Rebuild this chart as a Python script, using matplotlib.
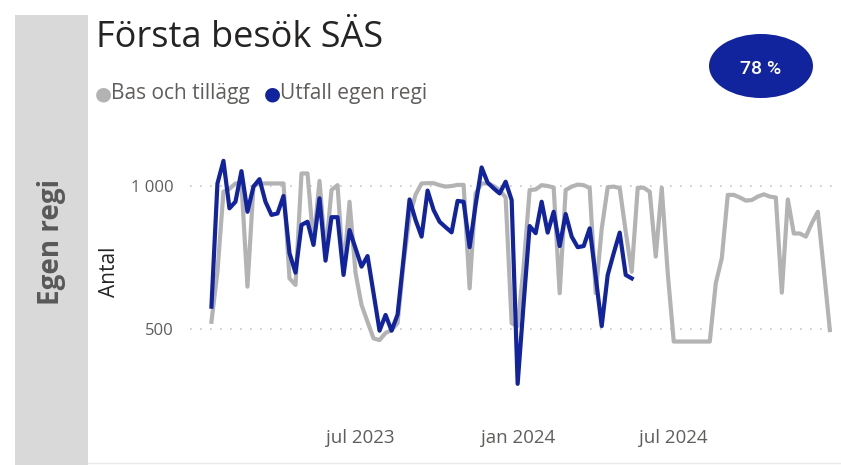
import numpy as np
import pandas as pd
import matplotlib
matplotlib.use("Agg")
import matplotlib.pyplot as plt
import matplotlib.dates as mdates
from matplotlib.patches import Rectangle, Ellipse

plt.rcParams['font.family'] = ['Open Sans', 'DejaVu Sans']

# weekly values, first week 2023-01-09
bas_och_tillagg = [525, 700, 980, 990, 1009, 1009, 648, 1000, 1009, 1009,
                   1009, 1009, 1009, 677, 654, 1044, 1044, 800, 1018, 760,
                   986, 1003, 700, 945, 696, 584, 525, 467, 461, 486,
                   496, 520, 730, 893, 970, 1009, 1010, 1010, 1003, 998,
                   1000, 1004, 1004, 642, 974, 1009, 1009, 1000, 986, 960,
                   520, 510, 720, 986, 988, 1003, 1000, 995, 625, 986,
                   998, 1005, 1003, 993, 625, 850, 996, 998, 993, 840,
                   700, 994, 994, 980, 753, 994, 695, 456, 456, 456,
                   456, 456, 456, 456, 660, 747, 969, 969, 960, 949,
                   951, 963, 971, 963, 960, 627, 953, 834, 834, 823,
                   870, 910, 706, 496]

utfall_egen_regi = [578, 1009, 1088, 922, 945, 1052, 910, 998, 1024, 945,
                    899, 904, 965, 765, 697, 864, 875, 794, 957, 739,
                    891, 891, 689, 846, 782, 718, 755, 625, 494, 549,
                    494, 550, 747, 953, 881, 823, 984, 916, 875, 856,
                    838, 948, 945, 786, 934, 1065, 1012, 992, 974, 1015,
                    951, 308, 590, 860, 835, 945, 837, 910, 790, 902,
                    823, 786, 790, 852, 683, 510, 689, 765, 837, 689,
                    677]

weeks = pd.date_range('2023-01-09', periods=len(bas_och_tillagg), freq='7D')

tick_dates = ['2023-07-01', '2024-01-01', '2024-07-01']
tick_labels = ['jul 2023', 'jan 2024', 'jul 2024']
y_ticks = [500, 1000]
y_tick_labels = ['500', '1 000']
kpi_text = '78 %'

gray = '#B3B3B3'
blue = '#12239E'
text_gray = '#605E5C'

fig = plt.figure(figsize=(8.41, 4.65), dpi=100)

# left band with rotated row label
fig.patches.append(Rectangle((15/841, 0), 73/841, 1 - 15/465, transform=fig.transFigure,
                             facecolor='#D9D9D9', edgecolor='none', zorder=0))
fig.text(52/841, 1 - 242/465, 'Egen regi', rotation=90, ha='center', va='center',
         fontsize=20, fontweight='bold', color='#595959')

# bottom border line
fig.add_artist(plt.Line2D([88/841, 1], [2/465, 2/465], transform=fig.transFigure,
                          color='#EAEAEA', lw=1))

fig.text(96/841, 1 - 38/465, 'Första besök SÄS', ha='left', va='center',
         fontsize=26, color='#252423')

# legend
fig.text(103/841, 1 - 94/465, '●', ha='center', va='center', fontsize=14, color=gray)
fig.text(111/841, 1 - 94/465, 'Bas och tillägg', ha='left', va='center',
         fontsize=15, color=text_gray)
fig.text(272/841, 1 - 94/465, '●', ha='center', va='center', fontsize=14, color=blue)
fig.text(280/841, 1 - 94/465, 'Utfall egen regi', ha='left', va='center',
         fontsize=15, color=text_gray)

# KPI badge
fig.patches.append(Ellipse((761/841, 1 - 66/465), 104/841, 64/465, transform=fig.transFigure,
                           facecolor=blue, edgecolor='none'))
fig.text(761/841, 1 - 69/465, kpi_text, ha='center', va='center', fontsize=14,
         color='white', fontweight='medium', family=['Roboto', 'DejaVu Sans'])

ax = fig.add_axes([190/841, 1 - 415/465, 645/841, 275/465])
ax.plot(weeks, bas_och_tillagg, color=gray, lw=3, solid_joinstyle='round', zorder=2)
ax.plot(weeks[:len(utfall_egen_regi)], utfall_egen_regi, color=blue, lw=3,
        solid_joinstyle='round', zorder=3)

ax.set_xlim(pd.Timestamp('2022-12-15'), pd.Timestamp('2025-01-05'))
ax.set_ylim(199, 1161)
ax.set_xticks(pd.to_datetime(tick_dates))
ax.set_xticklabels(tick_labels)
ax.set_yticks(y_ticks)
ax.set_yticklabels(y_tick_labels)
ax.tick_params(length=0, labelsize=12, labelcolor=text_gray)
ax.tick_params(axis='x', labelsize=13.5, pad=10)
ax.tick_params(axis='y', pad=12)
ax.grid(axis='y', color='#C8C6C4', linestyle=(0, (1, 5)), lw=1.2)
ax.grid(axis='x', visible=False)
for s in ax.spines.values():
    s.set_visible(False)
ax.set_ylabel('Antal', fontsize=15, color='#252423')
ax.yaxis.set_label_coords(-70/645, 0.52)

fig.savefig('out.png', dpi=100)
